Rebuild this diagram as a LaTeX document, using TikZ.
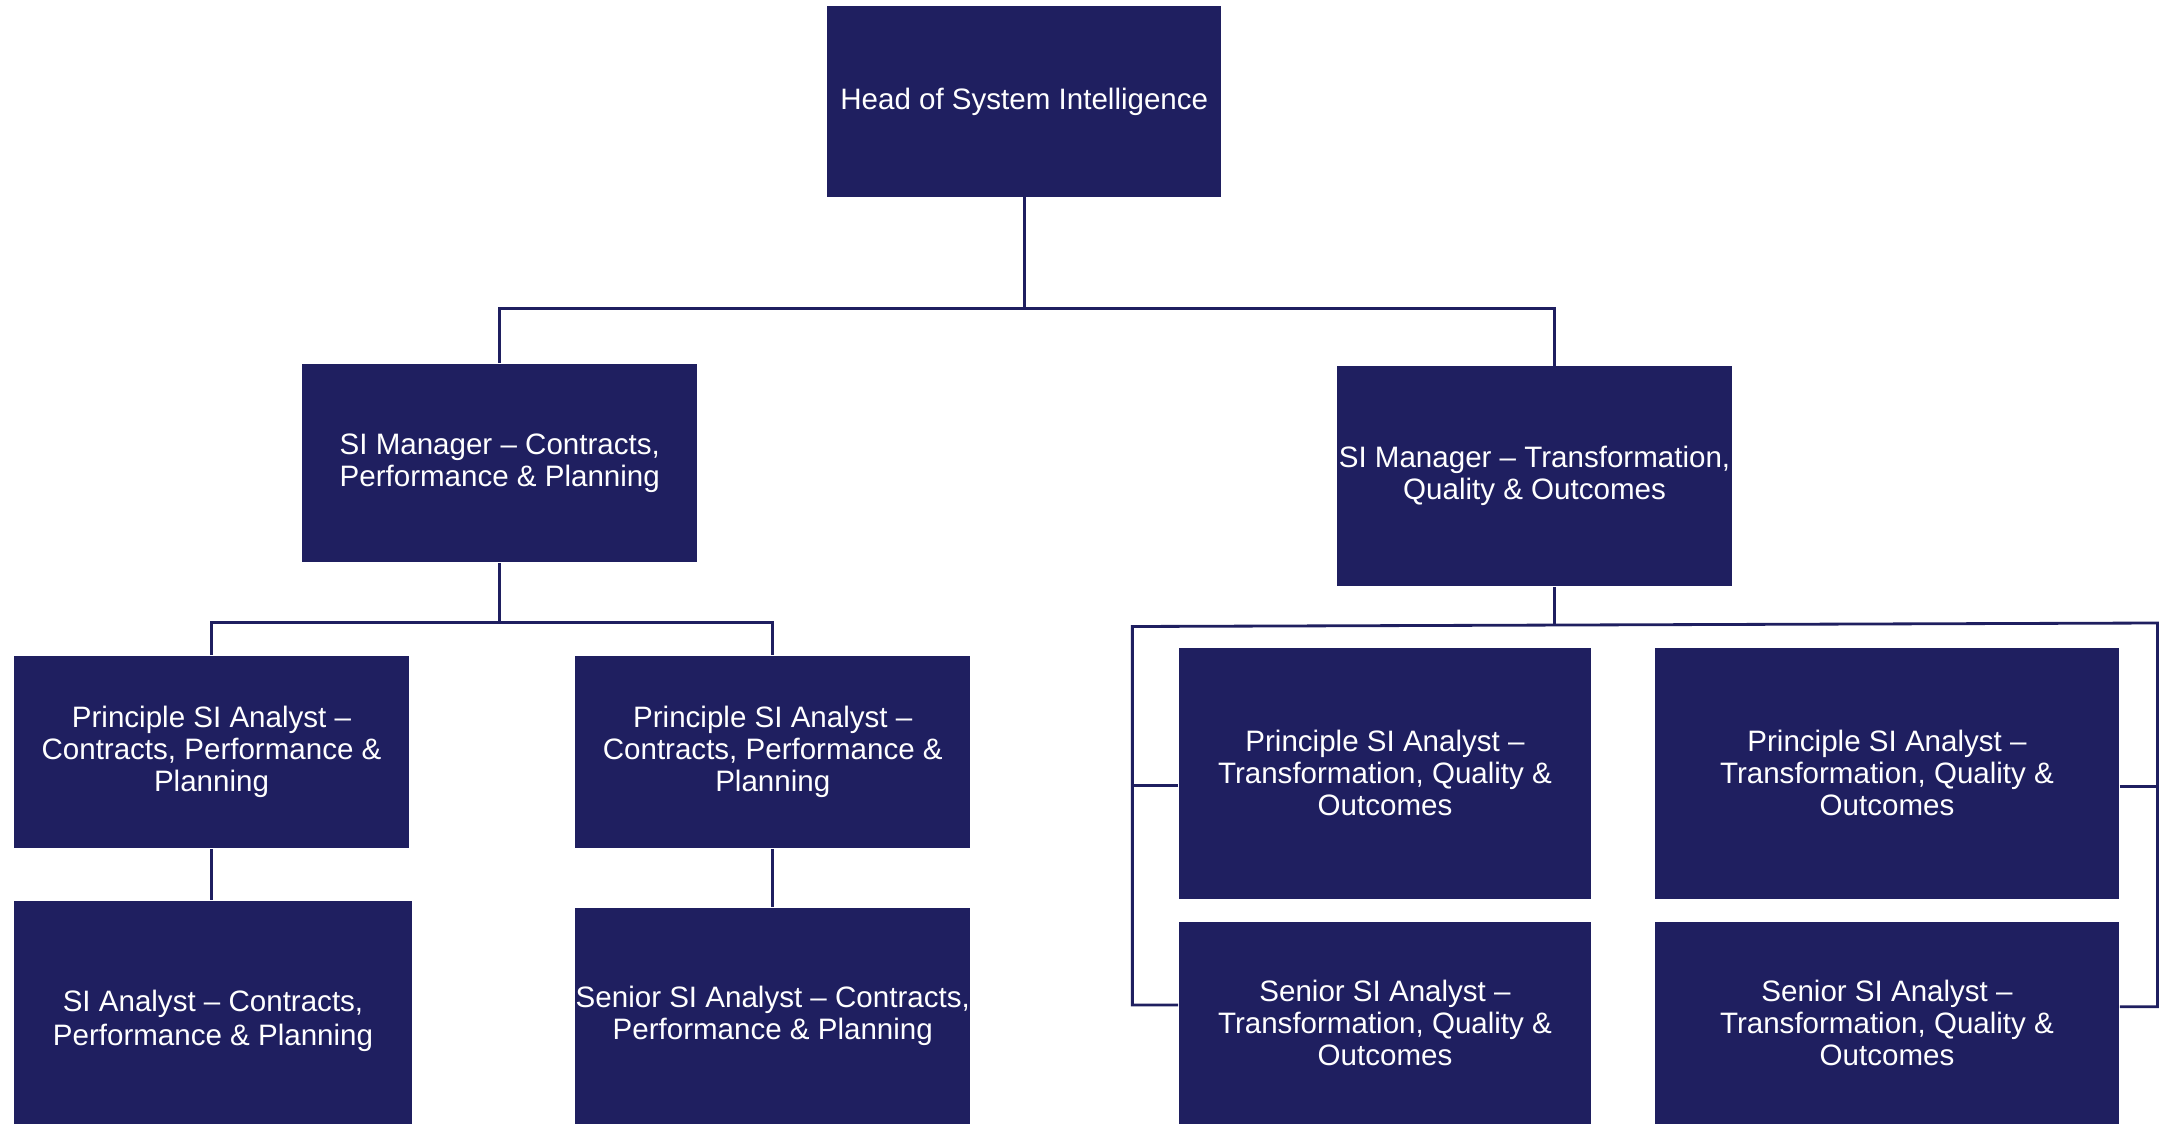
\documentclass[tikz,border=0pt]{standalone}
\usepackage{fontspec}
\setmainfont{Liberation Sans}
\definecolor{siNavy}{RGB}{31,31,96}
\begin{document}
\begin{tikzpicture}[x=0.01cm,y=-0.01cm,
  role/.style={fill=siNavy,text=white,align=center,inner sep=0pt,font=\fontsize{8.4}{9.1}\selectfont},
  link/.style={draw=siNavy,line width=0.8pt}]
\useasboundingbox (0,0) rectangle (2159,1124);
% boxes
\node[role,minimum width=3.935cm,minimum height=1.90cm] (head) at (1024.25,101.5) {Head of System Intelligence};
\node[role,minimum width=3.945cm,minimum height=1.98cm] (lm) at (499.75,463) {SI Manager -- Contracts,\\Performance \& Planning};
\node[role,minimum width=3.95cm,minimum height=2.20cm] (rm) at (1534.5,476) {SI Manager -- Transformation,\\Quality \& Outcomes};
\node[role,minimum width=3.95cm,minimum height=1.92cm] (pl1) at (211.5,752) {Principle SI Analyst --\\Contracts, Performance \&\\Planning};
\node[role,minimum width=3.945cm,minimum height=1.92cm] (pl2) at (772.75,752) {Principle SI Analyst --\\Contracts, Performance \&\\Planning};
\node[role,font=\fontsize{8.4}{9.8}\selectfont,minimum width=3.98cm,minimum height=2.40cm] (an1) at (213,1021) {SI Analyst -- Contracts,\\Performance \& Planning};
\node[role,minimum width=3.945cm,minimum height=2.16cm] (sn1) at (772.75,1016) {Senior SI Analyst -- Contracts,\\Performance \& Planning};
\node[role,minimum width=4.12cm,minimum height=2.505cm] (pr1) at (1385,773.25) {Principle SI Analyst --\\Transformation, Quality \&\\Outcomes};
\node[role,minimum width=4.64cm,minimum height=2.505cm] (pr2) at (1887,773.25) {Principle SI Analyst --\\Transformation, Quality \&\\Outcomes};
\node[role,minimum width=4.12cm,minimum height=2.02cm] (sr1) at (1385,1023) {Senior SI Analyst --\\Transformation, Quality \&\\Outcomes};
\node[role,minimum width=4.64cm,minimum height=2.02cm] (sr2) at (1887,1023) {Senior SI Analyst --\\Transformation, Quality \&\\Outcomes};
% top level
\coordinate (hBus) at (1024.25,308.5);
\coordinate (rmIn) at (1554.5,366);
\draw[link] (head.south) -- (hBus);
\draw[link] (lm.north) |- (hBus) -| (rmIn);
% contracts side
\coordinate (lBus) at (499.75,622.6);
\draw[link] (lm.south) -- (lBus);
\draw[link] (pl1.north) |- (lBus) -| (pl2.north);
\draw[link] (pl1.south) -- (pl1.south |- an1.north);
\draw[link] (pl2.south) -- (pl2.south |- sn1.north);
% transformation side
\coordinate (rBus) at (1554.5,624.5);
\coordinate (bL) at (1132.4,626.5);
\coordinate (bR) at (2157.6,623);
\draw[link] (rm.south -| rBus) -- (rBus);
\draw[link] (pr1.west |- 0,785.5) -- (bL |- 0,785.5);
\draw[link] (sr1.west |- 0,1005) -| (bL) -- (bR) |- (sr2.east |- 0,1006.7);
\draw[link] (pr2.east |- 0,786.6) -- (bR |- 0,786.6);
\end{tikzpicture}
\end{document}
